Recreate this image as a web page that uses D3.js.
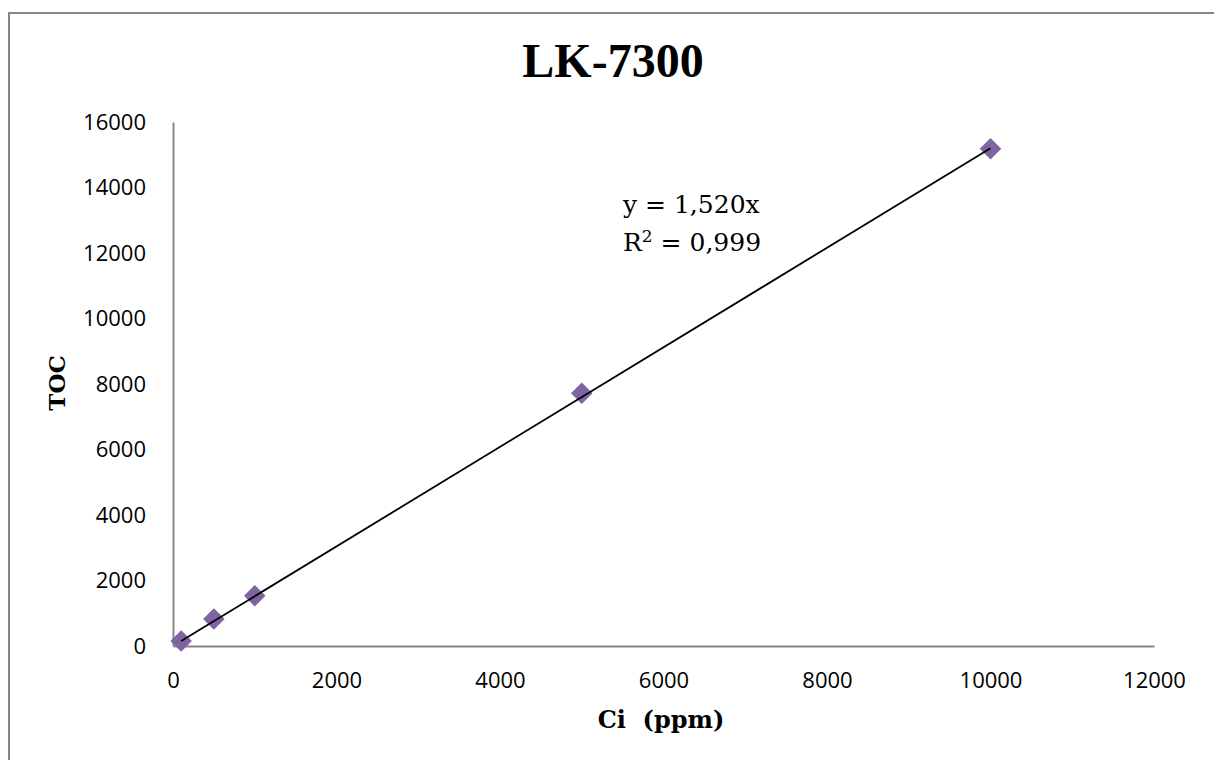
<!DOCTYPE html>
<html>
<head>
<meta charset="utf-8">
<script src="https://cdn.jsdelivr.net/npm/d3@7"></script>
<style>
  html, body { margin: 0; padding: 0; background: #fff; }
  svg { display: block; }
</style>
</head>
<body>
<svg id="chart" width="1214" height="760"></svg>
<script>
const title = "LK-7300";
const xLabel = "Ci  (ppm)";
const yLabel = "TOC";
const ciValues = [100, 500, 1000, 5000, 10000];
const tocValues = [152, 822, 1535, 7715, 15185];
const trendSlope = 1.520;
const equationText = "y = 1,520x";
const r2Text = "0,999";
const xTicks = [0, 2000, 4000, 6000, 8000, 10000, 12000];
const yTicks = [0, 2000, 4000, 6000, 8000, 10000, 12000, 14000, 16000];

const svg = d3.select("#chart");
const W = 1214, H = 760;
const margin = {left: 173, right: 1214 - 1154, top: 122, bottom: 760 - 646};

// Chart area border
svg.append("rect")
  .attr("x", 9).attr("y", 13)
  .attr("width", 1230).attr("height", 770)
  .attr("fill", "#fff")
  .attr("stroke", "#868686")
  .attr("stroke-width", 2);

const x = d3.scaleLinear().domain([0, 12000]).range([margin.left, W - margin.right]);
const y = d3.scaleLinear().domain([0, 16000]).range([H - margin.bottom, margin.top]);

const tickFont = "'Open Sans', 'Noto Sans', sans-serif";

// Y axis
const gy = svg.append("g")
  .attr("transform", `translate(${margin.left},0)`)
  .call(d3.axisLeft(y).tickValues(yTicks).tickSize(0).tickPadding(27).tickFormat(d3.format("d")));
gy.select(".domain").attr("stroke", "#868686").attr("stroke-width", 2);
gy.selectAll("text").attr("font-family", tickFont).attr("font-size", 22).attr("fill", "#000");

// X axis
const gx = svg.append("g")
  .attr("transform", `translate(0,${H - margin.bottom})`)
  .call(d3.axisBottom(x).tickValues(xTicks).tickSize(0).tickPadding(26).tickFormat(d3.format("d")));
gx.select(".domain").attr("stroke", "#868686").attr("stroke-width", 2);
gx.selectAll("text").attr("font-family", tickFont).attr("font-size", 22).attr("fill", "#000");

// Markers
const diamond = d3.symbol().type(d3.symbolSquare).size(230);
svg.selectAll("path.pt")
  .data(ciValues.map((c, i) => ({c, t: tocValues[i]})))
  .enter().append("path")
  .attr("class", "pt")
  .attr("d", diamond)
  .attr("transform", d => `translate(${x(d.c)},${y(d.t)}) rotate(45)`)
  .attr("fill", "#8064A2");

// Trendline (through origin, spanning data range), drawn above markers
const xExt = d3.extent(ciValues);
const line = d3.line().x(d => x(d)).y(d => y(d * trendSlope));
svg.append("path")
  .datum(xExt)
  .attr("d", line)
  .attr("fill", "none")
  .attr("stroke", "#000")
  .attr("stroke-width", 1.8);

// Title
svg.append("text")
  .attr("x", 613).attr("y", 77)
  .attr("text-anchor", "middle")
  .attr("font-family", "'Liberation Serif', serif")
  .attr("font-weight", "bold")
  .attr("font-size", 48)
  .attr("fill", "#000")
  .text(title);

// Equation
const eqFont = "'DejaVu Serif', serif";
svg.append("text")
  .attr("x", 623).attr("y", 213)
  .attr("font-family", eqFont)
  .attr("font-size", 25)
  .attr("fill", "#000")
  .text(equationText);
const r2 = svg.append("text")
  .attr("x", 623).attr("y", 251)
  .attr("font-family", eqFont)
  .attr("font-size", 25)
  .attr("fill", "#000");
r2.append("tspan").text("R");
r2.append("tspan").attr("font-size", 17).attr("dy", -9).text("2");
r2.append("tspan").attr("dy", 9).text(" = " + r2Text);

// X axis label
svg.append("text")
  .attr("x", 661).attr("y", 728)
  .attr("text-anchor", "middle")
  .attr("font-family", "'DejaVu Serif', serif")
  .attr("font-weight", "bold")
  .attr("font-size", 24)
  .attr("xml:space", "preserve")
  .style("white-space", "pre")
  .attr("fill", "#000")
  .text(xLabel);

// Y axis label
svg.append("text")
  .attr("transform", "translate(65,383) rotate(-90)")
  .attr("text-anchor", "middle")
  .attr("font-family", "'DejaVu Serif', serif")
  .attr("font-weight", "bold")
  .attr("font-size", 23)
  .attr("fill", "#000")
  .text(yLabel);
</script>
</body>
</html>
